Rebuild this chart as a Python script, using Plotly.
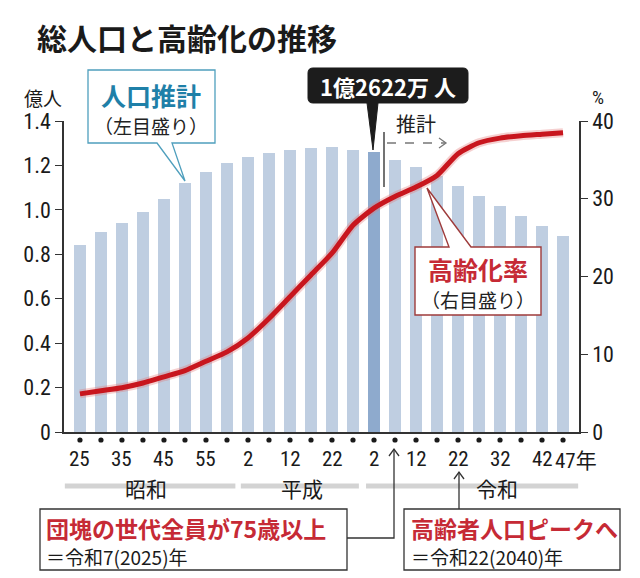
import plotly.graph_objects as go

# ---------------- data ----------------
years = [1950, 1955, 1960, 1965, 1970, 1975, 1980, 1985, 1990, 1995, 2000, 2005,
         2010, 2015, 2020, 2025, 2030, 2035, 2040, 2045, 2050, 2055, 2060, 2065]
population = [0.841, 0.901, 0.943, 0.992, 1.047, 1.119, 1.171, 1.211, 1.236, 1.256,
              1.269, 1.278, 1.281, 1.271, 1.262, 1.225, 1.191, 1.152, 1.109, 1.064,
              1.019, 0.974, 0.928, 0.881]
aging_rate = [4.9, 5.3, 5.7, 6.3, 7.1, 7.9, 9.1, 10.3, 12.1, 14.6, 17.4, 20.2,
              23.0, 26.6, 28.8, 30.3, 31.5, 33.0, 35.8, 37.2, 37.8, 38.1, 38.3, 38.5]
highlight_year = 2020
label_years = [1950, 1960, 1970, 1980, 1990, 2000, 2010, 2020, 2030, 2040, 2050, 2060]
label_texts = ["25", "35", "45", "55", "2", "12", "22", "2", "12", "22", "32", "42"]
last_label_year = 2065
last_label_text = "47年"
left_ticks = [0, 0.2, 0.4, 0.6, 0.8, 1.0, 1.2, 1.4]
left_tick_text = ["0", "0.2", "0.4", "0.6", "0.8", "1.0", "1.2", "1.4"]
right_ticks = [0, 10, 20, 30, 40]
eras = ["昭和", "平成", "令和"]
era_spans = [(1946.4, 1987.0), (1988.3, 2016.4), (2018.1, 2068.6)]
era_label_years = [1965.7, 2002.9, 2049.3]

# ---------------- layout geometry (page pixels) ----------------
OFF = 8                      # default page body margin
PAGE_W, PAGE_H = 640, 578
W, H = PAGE_W - OFF, PAGE_H - OFF
L, R, T, B = 64, 579, 121, 432
XR = [1946.2, 2068.8]


def xp(px):
    return (px - L) / (R - L)


def yp(py):
    return (B - py) / (B - T)


def P(px, py):
    return f"{xp(px):.5f},{yp(py):.5f}"


JP = "Noto Sans CJK JP, Liberation Sans, sans-serif"
NUM = "Liberation Sans Narrow, Roboto Condensed, Liberation Sans, Arial, sans-serif"
RED = "#c62a35"

bar_colors = ["#8eaacd" if y == highlight_year else "#bfcee1" for y in years]

fig = go.Figure()
fig.add_trace(go.Bar(x=years, y=population, marker=dict(color=bar_colors, line=dict(width=0)),
                     width=2.95, yaxis="y", hoverinfo="skip"))
fig.add_trace(go.Scatter(x=years, y=aging_rate, mode="lines", yaxis="y2",
                         line=dict(color="rgba(225,120,120,0.35)", width=9, shape="spline", smoothing=0.6),
                         hoverinfo="skip"))
fig.add_trace(go.Scatter(x=years, y=aging_rate, mode="lines", yaxis="y2",
                         line=dict(color="#c8161e", width=5, shape="spline", smoothing=0.6),
                         hoverinfo="skip"))

shapes = []
ann = []

# dots under the axis, one per data year
dot_y = yp(440)
for yv in years:
    shapes.append(dict(type="circle", xref="x", yref="paper", xsizemode="pixel", ysizemode="pixel",
                       xanchor=yv, yanchor=dot_y, x0=-2.6, x1=2.6, y0=-2.6, y1=2.6,
                       fillcolor="#1a1a1a", line=dict(width=0)))

# era bands + labels
for (a, b), name, ly in zip(era_spans, eras, era_label_years):
    shapes.append(dict(type="line", xref="x", yref="paper", x0=a, x1=b, y0=yp(486), y1=yp(486),
                       line=dict(color="#d3d3d3", width=5), layer="below"))
    ann.append(dict(x=ly, y=yp(488), xref="x", yref="paper", text=name, showarrow=False,
                    font=dict(family=JP, size=21, color="#1a1a1a"), xanchor="center", yanchor="middle"))

# bottom tick labels
for yv, t in zip(label_years, label_texts):
    ann.append(dict(x=yv, y=yp(459), xref="x", yref="paper", text=t, showarrow=False,
                    font=dict(family=NUM, size=21, color="#1a1a1a"), xanchor="center", yanchor="middle"))
ann.append(dict(x=last_label_year, y=yp(459), xref="x", yref="paper",
                text=f"<span style='font-family:{NUM}'>{last_label_text[:-1]}</span>{last_label_text[-1]}",
                showarrow=False, font=dict(family=JP, size=21, color="#1a1a1a"),
                xanchor="left", xshift=-10, yanchor="middle"))

# title and axis units
ann.append(dict(x=xp(35), y=yp(37), xref="paper", yref="paper", text="<b>総人口と高齢化の推移</b>",
                showarrow=False, font=dict(family=JP, size=30, color="#1a1a1a"),
                xanchor="left", yanchor="middle"))
ann.append(dict(x=xp(43), y=yp(97), xref="paper", yref="paper", text="億人", showarrow=False,
                font=dict(family=JP, size=19, color="#1a1a1a"), xanchor="center", yanchor="middle"))
ann.append(dict(x=xp(598), y=yp(97), xref="paper", yref="paper", text="%", showarrow=False,
                font=dict(family=NUM, size=19, color="#1a1a1a"), xanchor="center", yanchor="middle"))

# teal callout (人口推計)
shapes.append(dict(type="path", xref="paper", yref="paper", layer="above",
                   path=f"M{P(88,70)} L{P(215,70)} L{P(215,143)} L{P(172,143)} L{P(185,181)} "
                        f"L{P(157,143)} L{P(88,143)} Z",
                   fillcolor="#ffffff", line=dict(color="#4f9fbd", width=1.3)))
ann.append(dict(x=xp(151), y=yp(95), xref="paper", yref="paper", text="<b>人口推計</b>", showarrow=False,
                font=dict(family=JP, size=25, color="#1f80a8"), xanchor="center", yanchor="middle"))
ann.append(dict(x=xp(151), y=yp(126), xref="paper", yref="paper", text="（左目盛り）", showarrow=False,
                font=dict(family=JP, size=19, color="#222"), xanchor="center", yanchor="middle"))

# black callout (1億2622万人)
r = 5
shapes.append(dict(type="path", xref="paper", yref="paper", layer="above",
                   path=(f"M{P(308+r,68)} L{P(468-r,68)} Q{P(468,68)} {P(468,68+r)} "
                         f"L{P(468,103-r)} Q{P(468,103)} {P(468-r,103)} "
                         f"L{P(378,103)} L{P(373,150)} L{P(367,103)} "
                         f"L{P(308+r,103)} Q{P(308,103)} {P(308,103-r)} "
                         f"L{P(308,68+r)} Q{P(308,68)} {P(308+r,68)} Z"),
                   fillcolor="#1c1c1c", line=dict(color="#1c1c1c", width=1)))
ann.append(dict(x=xp(388), y=yp(86), xref="paper", yref="paper", text="<b>1億2622万 人</b>",
                showarrow=False, font=dict(family=JP, size=22, color="#ffffff"),
                xanchor="center", yanchor="middle"))

# projection divider + dashed arrow
shapes.append(dict(type="line", xref="paper", yref="paper", x0=xp(384), x1=xp(384), y0=yp(132), y1=yp(187),
                   line=dict(color="#444", width=1.5), layer="above"))
shapes.append(dict(type="line", xref="paper", yref="paper", x0=xp(387), x1=xp(445), y0=yp(143), y1=yp(143),
                   line=dict(color="#777", width=1.3, dash="dash"), layer="above"))
shapes.append(dict(type="path", xref="paper", yref="paper", layer="above",
                   path=f"M{P(439,138)} L{P(446,143)} L{P(439,148)}",
                   line=dict(color="#777", width=1.3)))
ann.append(dict(x=xp(416), y=yp(123), xref="paper", yref="paper", text="推計", showarrow=False,
                font=dict(family=JP, size=20, color="#222"), xanchor="center", yanchor="middle"))

# red callout (高齢化率)
shapes.append(dict(type="path", xref="paper", yref="paper", layer="above",
                   path=f"M{P(415,247)} L{P(449,247)} L{P(427,188)} L{P(471,247)} L{P(541,247)} "
                        f"L{P(541,315)} L{P(415,315)} Z",
                   fillcolor="#ffffff", line=dict(color="#9e3b3b", width=1.4)))
ann.append(dict(x=xp(478), y=yp(269), xref="paper", yref="paper", text="<b>高齢化率</b>", showarrow=False,
                font=dict(family=JP, size=25, color=RED), xanchor="center", yanchor="middle"))
ann.append(dict(x=xp(478), y=yp(299), xref="paper", yref="paper", text="（右目盛り）", showarrow=False,
                font=dict(family=JP, size=19, color="#222"), xanchor="center", yanchor="middle"))

# lower boxes
shapes.append(dict(type="rect", xref="paper", yref="paper", x0=xp(40), x1=xp(347), y0=yp(509), y1=yp(570),
                   fillcolor="#ffffff", line=dict(color="#333", width=1.3)))
shapes.append(dict(type="path", xref="paper", yref="paper",
                   path=f"M{P(347,538)} L{P(394,538)} L{P(394,449)}", line=dict(color="#333", width=1.3)))
shapes.append(dict(type="path", xref="paper", yref="paper",
                   path=f"M{P(389,456)} L{P(394,449)} L{P(399,456)}", line=dict(color="#333", width=1.3)))
ann.append(dict(x=xp(44), y=yp(528), xref="paper", yref="paper", text="<b>団塊の世代全員が75歳以上</b>",
                showarrow=False, font=dict(family=JP, size=23, color=RED), xanchor="left", yanchor="middle"))
ann.append(dict(x=xp(44), y=yp(556), xref="paper", yref="paper", text="＝令和7(2025)年",
                showarrow=False, font=dict(family=JP, size=19, color="#1a1a1a"), xanchor="left", yanchor="middle"))

shapes.append(dict(type="rect", xref="paper", yref="paper", x0=xp(404), x1=xp(620), y0=yp(509), y1=yp(570),
                   fillcolor="#ffffff", line=dict(color="#333", width=1.3)))
shapes.append(dict(type="line", xref="paper", yref="paper", x0=xp(459), x1=xp(459), y0=yp(509), y1=yp(472),
                   line=dict(color="#333", width=1.3)))
shapes.append(dict(type="path", xref="paper", yref="paper",
                   path=f"M{P(454,479)} L{P(459,472)} L{P(464,479)}", line=dict(color="#333", width=1.3)))
ann.append(dict(x=xp(409), y=yp(528), xref="paper", yref="paper", text="<b>高齢者人口ピークへ</b>",
                showarrow=False, font=dict(family=JP, size=23, color=RED), xanchor="left", yanchor="middle"))
ann.append(dict(x=xp(409), y=yp(556), xref="paper", yref="paper", text="＝令和22(2040)年",
                showarrow=False, font=dict(family=JP, size=19, color="#1a1a1a"), xanchor="left", yanchor="middle"))

fig.update_layout(
    width=W, height=H,
    margin=dict(l=L - OFF, r=PAGE_W - R, t=T - OFF, b=PAGE_H - B, pad=0),
    paper_bgcolor="#ffffff", plot_bgcolor="#ffffff",
    showlegend=False, bargap=0,
    font=dict(family=NUM, color="#1a1a1a"),
    xaxis=dict(range=XR, showgrid=False, zeroline=False, showticklabels=False, ticks="",
               showline=True, linecolor="#333", linewidth=1.5, fixedrange=True),
    yaxis=dict(range=[0, 1.4], tickvals=left_ticks, ticktext=left_tick_text, ticks="outside",
               ticklen=7, tickcolor="#333", showline=True, linecolor="#333", linewidth=1.5,
               showgrid=False, zeroline=False, tickfont=dict(family=NUM, size=22, color="#1a1a1a")),
    yaxis2=dict(range=[0, 40], tickvals=right_ticks, overlaying="y", side="right", ticks="outside",
                ticklen=7, tickcolor="#333", showline=True, linecolor="#333", linewidth=1.5,
                showgrid=False, zeroline=False, tickfont=dict(family=NUM, size=22, color="#1a1a1a")),
    shapes=shapes, annotations=ann,
)

fig.write_html("out.html")
